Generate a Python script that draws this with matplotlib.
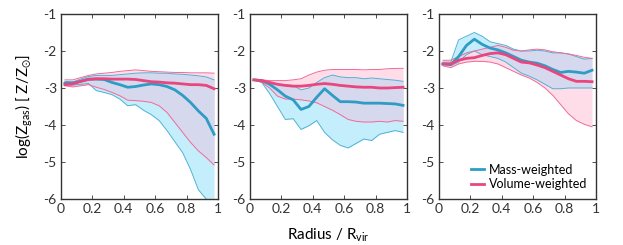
import matplotlib
matplotlib.use("Agg")
import matplotlib.pyplot as plt
import numpy as np

plt.rcParams['font.family'] = ['Lato', 'DejaVu Sans']
plt.rcParams['mathtext.default'] = 'regular'

# radial bins (centres)
radius = np.arange(20) * 0.05 + 0.025

# panel 1
p1_mass_med = [-2.87, -2.86, -2.82, -2.76, -2.76, -2.77, -2.85, -2.91, -2.98, -2.96,
               -2.92, -2.89, -2.91, -2.96, -3.05, -3.2, -3.39, -3.62, -3.82, -4.25]
p1_mass_hi = [-2.82, -2.84, -2.76, -2.69, -2.66, -2.66, -2.66, -2.64, -2.62, -2.6,
              -2.59, -2.59, -2.6, -2.6, -2.62, -2.63, -2.65, -2.67, -2.7, -2.78]
p1_mass_lo = [-2.91, -2.92, -2.9, -2.88, -3.07, -3.12, -3.18, -3.3, -3.48, -3.45,
              -3.6, -3.72, -3.88, -4.15, -4.45, -4.75, -5.2, -5.75, -6.0, -6.2]
p1_vol_med = [-2.91, -2.89, -2.82, -2.77, -2.75, -2.75, -2.76, -2.76, -2.76, -2.77,
              -2.8, -2.83, -2.84, -2.86, -2.87, -2.89, -2.91, -2.91, -2.93, -3.02]
p1_vol_hi = [-2.78, -2.78, -2.72, -2.66, -2.62, -2.6, -2.58, -2.55, -2.53, -2.51,
             -2.53, -2.55, -2.56, -2.57, -2.58, -2.58, -2.59, -2.59, -2.59, -2.6]
p1_vol_lo = [-2.94, -2.97, -2.94, -2.91, -2.98, -3.04, -3.12, -3.21, -3.33, -3.34,
             -3.36, -3.39, -3.48, -3.66, -3.93, -4.2, -4.47, -4.7, -4.88, -5.08]

# panel 2
p2_mass_med = [-2.78, -2.8, -2.9, -3.05, -3.22, -3.32, -3.58, -3.5, -3.25, -3.02,
               -3.2, -3.37, -3.37, -3.38, -3.41, -3.41, -3.41, -3.42, -3.43, -3.47]
p2_mass_hi = [-2.78, -2.8, -2.88, -2.9, -2.92, -2.93, -3.05, -3.0, -2.85, -2.72,
              -2.65, -2.7, -2.72, -2.72, -2.75, -2.73, -2.75, -2.77, -2.79, -2.82]
p2_mass_lo = [-2.78, -2.85, -3.15, -3.5, -3.85, -3.83, -4.12, -4.02, -3.88, -4.2,
              -4.4, -4.55, -4.62, -4.5, -4.38, -4.42, -4.25, -4.2, -4.15, -4.2]
p2_vol_med = [-2.78, -2.8, -2.85, -2.9, -2.93, -2.95, -2.95, -2.93, -2.9, -2.88,
              -2.9, -2.93, -2.95, -2.97, -2.98, -2.98, -3.0, -3.0, -2.99, -2.98]
p2_vol_hi = [-2.78, -2.78, -2.8, -2.8, -2.8, -2.78, -2.75, -2.65, -2.57, -2.52,
             -2.5, -2.5, -2.5, -2.5, -2.51, -2.5, -2.5, -2.48, -2.47, -2.47]
p2_vol_lo = [-2.78, -2.85, -3.0, -3.22, -3.3, -3.3, -3.32, -3.35, -3.4, -3.5,
             -3.6, -3.72, -3.85, -3.9, -3.92, -3.92, -3.9, -3.92, -3.88, -3.9]

# panel 3
p3_mass_med = [-2.35, -2.37, -2.15, -1.85, -1.68, -1.82, -1.92, -1.97, -2.05, -2.15,
               -2.25, -2.3, -2.33, -2.4, -2.5, -2.58, -2.55, -2.57, -2.6, -2.52]
p3_mass_hi = [-2.3, -2.3, -1.7, -1.6, -1.5, -1.6, -1.75, -1.8, -1.85, -1.95,
              -2.0, -2.0, -1.98, -2.0, -2.05, -2.05, -2.08, -2.15, -2.22, -2.2]
p3_mass_lo = [-2.35, -2.4, -2.3, -2.1, -2.0, -2.1, -2.15, -2.2, -2.3, -2.45,
              -2.6, -2.68, -2.78, -2.9, -3.02, -3.02, -3.0, -3.0, -3.0, -3.0]
p3_vol_med = [-2.35, -2.35, -2.25, -2.2, -2.18, -2.12, -2.07, -2.05, -2.1, -2.2,
              -2.3, -2.32, -2.38, -2.45, -2.55, -2.65, -2.75, -2.82, -2.82, -2.83]
p3_vol_hi = [-2.25, -2.25, -2.15, -2.05, -2.0, -1.95, -1.9, -1.85, -1.9, -1.98,
             -2.0, -1.97, -1.95, -1.97, -2.02, -2.05, -2.08, -2.12, -2.17, -2.2]
p3_vol_lo = [-2.4, -2.45, -2.35, -2.3, -2.28, -2.28, -2.3, -2.35, -2.45, -2.55,
             -2.65, -2.73, -2.85, -3.0, -3.2, -3.45, -3.7, -3.88, -3.98, -4.05]

panels = [
    (p1_mass_med, p1_mass_hi, p1_mass_lo, p1_vol_med, p1_vol_hi, p1_vol_lo),
    (p2_mass_med, p2_mass_hi, p2_mass_lo, p2_vol_med, p2_vol_hi, p2_vol_lo),
    (p3_mass_med, p3_mass_hi, p3_mass_lo, p3_vol_med, p3_vol_hi, p3_vol_lo),
]

mass_col = "#2e9cc4"
vol_col = "#e8467c"

fig = plt.figure(figsize=(6.23, 2.45), dpi=100)
W, H = 623, 245
lefts = [61, 250, 439]
for k, (mm, mh, ml, vm, vh, vl) in enumerate(panels):
    ax = fig.add_axes([lefts[k] / W, 1 - 199 / H, 157 / W, 185 / H])
    ax.fill_between(radius, ml, mh, color="#c4eefc", lw=0)
    ax.fill_between(radius, vl, vh, color="#ffdde8", lw=0)
    # overlap of the two ranges
    ov_lo = np.maximum(ml, vl)
    ov_hi = np.minimum(mh, vh)
    ax.fill_between(radius, ov_lo, ov_hi, where=ov_hi > ov_lo, interpolate=True,
                    color="#d6d8ee", lw=0)
    ax.plot(radius, mh, color="#4fb2d6", lw=0.7)
    ax.plot(radius, ml, color="#4fb2d6", lw=0.7)
    ax.plot(radius, vh, color="#f06a98", lw=0.7)
    ax.plot(radius, vl, color="#f06a98", lw=0.7)
    ax.plot(radius, mm, color=mass_col, lw=2, label="Mass-weighted")
    ax.plot(radius, vm, color=vol_col, lw=2, label="Volume-weighted")
    ax.set_xlim(0, 1)
    ax.set_ylim(-6, -1)
    ax.set_xticks([0, 0.2, 0.4, 0.6, 0.8, 1])
    ax.set_xticklabels(["0", "0.2", "0.4", "0.6", "0.8", "1"])
    ax.set_yticks([-6, -5, -4, -3, -2, -1])
    ax.set_yticklabels(["-6", "-5", "-4", "-3", "-2", "-1"])
    ax.tick_params(direction="in", length=3, width=0.6, top=True, right=True,
                   labelsize=10, colors="#333333", pad=3)
    for s in ax.spines.values():
        s.set_linewidth(1.0)
        s.set_color("#333333")
    if k == 0:
        ax.set_ylabel(r"log(Z$_{gas}$) [ Z/Z$_{\odot}$]", fontsize=11, labelpad=6)
    if k == 1:
        ax.set_xlabel(r"Radius / R$_{vir}$", fontsize=11, labelpad=8)
    if k == 2:
        ax.legend(loc="lower right", frameon=False, fontsize=9, handlelength=1.0,
                  handletextpad=0.4, borderaxespad=0.3, labelspacing=0.2)

fig.savefig("out.png", dpi=100)
